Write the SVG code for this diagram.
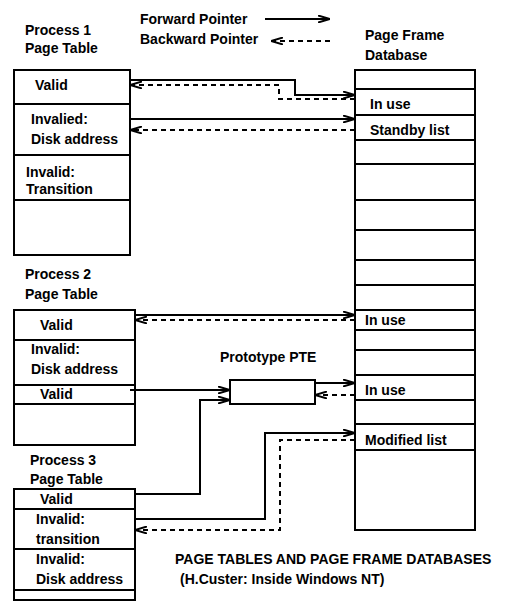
<svg xmlns="http://www.w3.org/2000/svg" width="516" height="611" viewBox="0 0 516 611">
<style>
text{font-family:"Liberation Sans",Arial,sans-serif;font-size:14px;font-weight:bold;fill:#000}
.box{fill:none;stroke:#000;stroke-width:2}
.row{stroke:#000;stroke-width:2}
.fwd{fill:none;stroke:#000;stroke-width:2;marker-end:url(#arr)}
.bwd{fill:none;stroke:#000;stroke-width:2;stroke-dasharray:5 4;marker-end:url(#arrb)}
</style>
<defs>
<marker id="arr" viewBox="0 0 12 8" refX="12" refY="4" markerWidth="12" markerHeight="8" markerUnits="userSpaceOnUse" orient="auto">
<path d="M0,0.5 L12,4 L0,7.5 M2,4 L11,4" fill="none" stroke="#000" stroke-width="2"/>
</marker>
<marker id="arrb" viewBox="0 0 12 8" refX="12" refY="4" markerWidth="12" markerHeight="8" markerUnits="userSpaceOnUse" orient="auto">
<path d="M0,0.5 L12,4 L0,7.5" fill="none" stroke="#000" stroke-width="2"/>
</marker>
</defs>
<rect width="516" height="611" fill="#fff"/>

<g id="legend">
<text x="140" y="24">Forward Pointer</text>
<text x="140" y="44">Backward Pointer</text>
<path class="fwd" d="M265,19 H330"/>
<path class="bwd" d="M330,41 H271"/>
</g>

<g id="p1">
<text x="25" y="35">Process 1</text>
<text x="25" y="53">Page Table</text>
<rect class="box" x="14" y="70" width="116" height="185"/>
<path class="row" d="M14,104 H130 M14,155 H130 M14,200 H130"/>
<text x="35" y="90">Valid</text>
<text x="31" y="124">Invalied:</text>
<text x="31" y="144">Disk address</text>
<text x="26" y="177">Invalid:</text>
<text x="26" y="194">Transition</text>
</g>

<g id="pfd">
<text x="365" y="40">Page Frame</text>
<text x="365" y="60">Database</text>
<rect class="box" x="355" y="70" width="120" height="460"/>
<path class="row" d="M355,89 H475 M355,115 H475 M355,140 H475 M355,164 H475 M355,200 H475 M355,230 H475 M355,260 H475 M355,285 H475 M355,310 H475 M355,330 H475 M355,350 H475 M355,375 H475 M355,400 H475 M355,424 H475 M355,450 H475"/>
<text x="370" y="109">In use</text>
<text x="370" y="135">Standby list</text>
<text x="365" y="325">In use</text>
<text x="365" y="395">In use</text>
<text x="365" y="445">Modified list</text>
</g>

<g id="p2">
<text x="25" y="279">Process 2</text>
<text x="25" y="299">Page Table</text>
<rect class="box" x="14" y="310" width="121" height="135"/>
<path class="row" d="M14,340 H135 M14,385 H135 M14,404 H135"/>
<text x="40" y="330">Valid</text>
<text x="31" y="354">Invalid:</text>
<text x="31" y="374">Disk address</text>
<text x="40" y="399">Valid</text>
</g>

<g id="pte">
<text x="220" y="362">Prototype PTE</text>
<rect class="box" x="230" y="380" width="85" height="24"/>
</g>

<g id="p3">
<text x="30" y="465">Process 3</text>
<text x="30" y="484">Page Table</text>
<rect class="box" x="14" y="489" width="121" height="111"/>
<path class="row" d="M14,509 H135 M14,549 H135 M14,590 H135"/>
<text x="40" y="504">Valid</text>
<text x="36" y="524">Invalid:</text>
<text x="36" y="544">transition</text>
<text x="36" y="564">Invalid:</text>
<text x="36" y="584">Disk address</text>
</g>

<g id="caption">
<text x="175" y="564">PAGE TABLES AND PAGE FRAME DATABASES</text>
<text x="180" y="584">(H.Custer: Inside Windows NT)</text>
</g>

<g id="connectors">
<path class="fwd" d="M130,80 H295 V95 H355"/>
<path class="bwd" d="M355,99 H279 V85 H130"/>
<path class="fwd" d="M130,119 H355"/>
<path class="bwd" d="M355,130 H130"/>
<path class="fwd" d="M135,315 H355"/>
<path class="bwd" d="M355,320 H135"/>
<path class="fwd" d="M130,390 H230"/>
<path class="fwd" d="M315,383 H355"/>
<path class="bwd" d="M355,395 H315"/>
<path class="fwd" d="M135,494 H200 V400 H230"/>
<path class="fwd" d="M135,519 H265 V433 H355"/>
<path class="bwd" d="M355,440 H280 V530 H135"/>
</g>
</svg>
